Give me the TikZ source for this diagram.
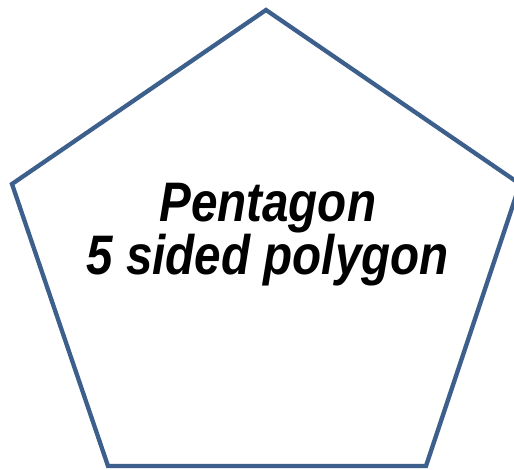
\documentclass[tikz,border=0pt]{standalone}
\usepackage{fontspec}
\setmainfont{Liberation Sans}
\definecolor{penblue}{RGB}{60,95,140}
\begin{document}
\begin{tikzpicture}[x=1pt,y=1pt,
  edge/.style={draw=penblue,line width=4.3pt,line join=miter},
  label/.style={anchor=base,inner sep=0pt,align=center,yscale=1.17,transform shape,
    font=\fontsize{47.6}{40.7}\selectfont\bfseries\itshape}]
\useasboundingbox (0,0) rectangle (514,469);
\coordinate (top) at (266,459);
\coordinate (left) at (12,285);
\coordinate (bl) at (108,3);
\coordinate (br) at (426,3);
\coordinate (right) at (520,285);
\draw[edge] (top) -- (right) -- (br) -- (bl) -- (left) -- cycle;
\node[label] (txt) at (267.7,194.7) {Pentagon\\5 sided polygon};
\end{tikzpicture}
\end{document}
